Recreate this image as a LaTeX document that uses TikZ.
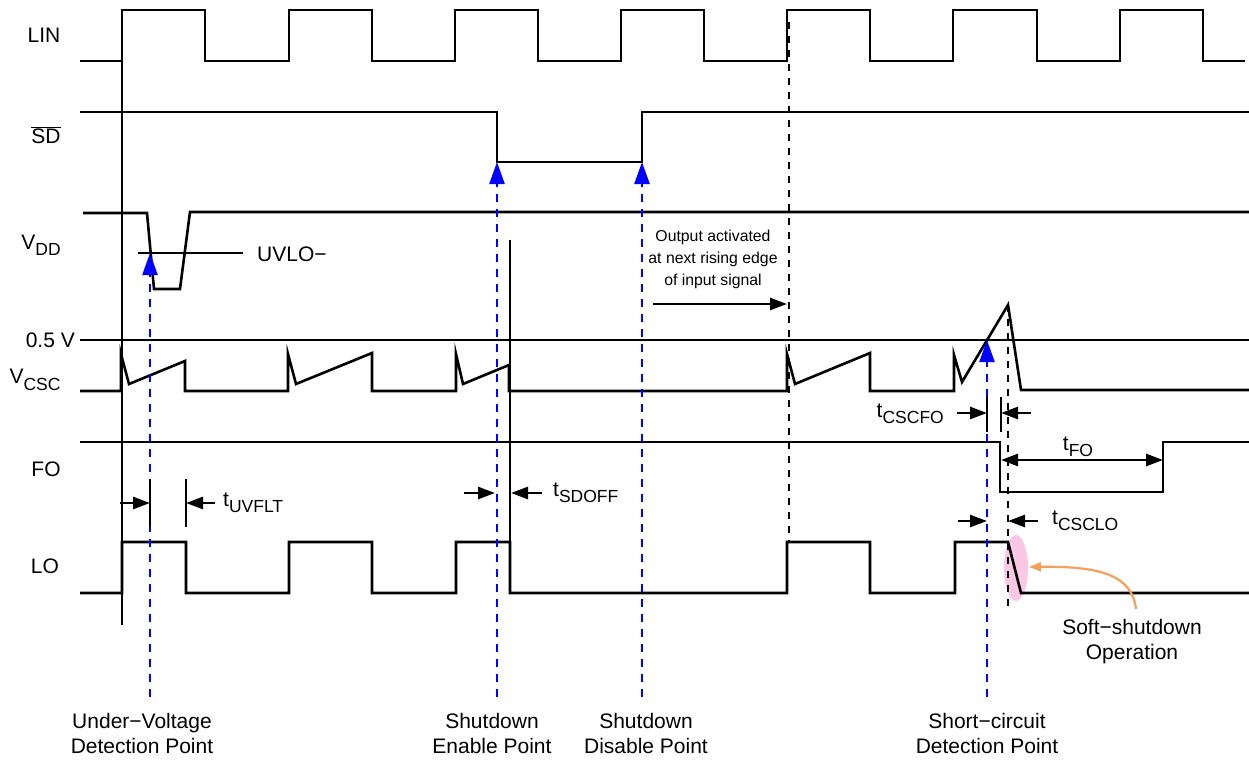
\documentclass[tikz,border=0pt]{standalone}
\usepackage{fontspec}
\setmainfont{Liberation Sans}
\usetikzlibrary{arrows.meta}
\definecolor{pinkfill}{RGB}{250,200,228}
\definecolor{orangearr}{RGB}{242,160,90}
\newcommand{\sbs}[1]{\raisebox{-0.3em}{\fontsize{17.5}{19}\selectfont #1}}
\begin{document}
\begin{tikzpicture}[x=1pt,y=-1pt,font=\fontsize{21}{25}\selectfont,
  sig/.style={line width=2.6pt},
  bluearrow/.style={blue,line width=2.4pt,dash pattern=on 8pt off 7pt,-{Triangle[length=22pt,width=15pt]}},
  blkarrow/.style={line width=2.6pt,-{Triangle[length=17pt,width=12pt]}},
  dblarrow/.style={line width=2.6pt,{Triangle[length=17pt,width=12pt]}-{Triangle[length=17pt,width=12pt]}},
  blkdash/.style={line width=2.6pt,dash pattern=on 7pt off 7pt},
  tick/.style={line width=2.6pt},
  lbl/.style={inner sep=0pt},
  bottomlbl/.style={inner sep=0pt,align=center,anchor=north}]
\useasboundingbox (0,0) rectangle (1249,768);

% signal labels
\node[lbl] (lLIN) at (44,35) {LIN};
\node[lbl] (lSD) at (46,135) {$\overline{\mbox{SD}}$};
\node[lbl] (lVDD) at (41,245) {V\sbs{DD}};
\node[lbl,anchor=east] (l05) at (75,340) {0.5 V};
\node[lbl] (lVCSC) at (35,380) {V\sbs{CSC}};
\node[lbl] (lFO) at (46,469) {FO};
\node[lbl] (lLO) at (45,566) {LO};

% pink ellipse (behind LO)
\fill[pinkfill] (1016,568) ellipse [x radius=12, y radius=33];

% LIN
\draw[sig] (80,61) -- (122,61) -- (122,10) -- (205,10) -- (205,61) -- (289,61) -- (289,10) -- (372,10) -- (372,61)
  -- (455,61) -- (455,10) -- (538,10) -- (538,61) -- (621,61) -- (621,10) -- (704,10) -- (704,61)
  -- (787,61) -- (787,10) -- (870,10) -- (870,61) -- (953,61) -- (953,10) -- (1037,10) -- (1037,61)
  -- (1120,61) -- (1120,10) -- (1203,10) -- (1203,61) -- (1245,61);
% SD
\draw[sig] (80,112) -- (497,112) -- (497,162) -- (642,162) -- (642,112) -- (1249,112);
% VDD
\draw[sig] (83,213) -- (147,213) -- (154,289) -- (180,289) -- (190,212) -- (1249,212);
\draw[sig] (138,253) -- (243,253);
\node[lbl,anchor=west] (luvlo) at (257,254) {UVLO−};
% 0.5 V
\draw[sig] (80,340) -- (1249,340);
% VCSC
\draw[sig] (80,391) -- (121,391) -- (121,354) -- (129,384) -- (185,361) -- (185,391) -- (288,391) -- (288,354) -- (296,384)
  -- (372,353) -- (372,391) -- (456,391) -- (456,354) -- (463,384) -- (509,365) -- (509,391) -- (787,391)
  -- (787,354) -- (795,384) -- (870,353) -- (870,391) -- (954,391) -- (954,355) -- (962,382) -- (1008,305)
  -- (1021,390) -- (1249,390);
% FO
\draw[sig] (80,442) -- (1000,442) -- (1000,492) -- (1163,492) -- (1163,442) -- (1249,442);
% LO
\draw[sig] (80,593) -- (122,593) -- (122,542) -- (186,542) -- (186,593) -- (289,593) -- (289,542) -- (372,542) -- (372,593)
  -- (456,593) -- (456,542) -- (510,542) -- (510,593) -- (787,593) -- (787,542) -- (870,542) -- (870,593)
  -- (955,593) -- (955,542) -- (1008,542) -- (1021,593) -- (1249,593);

% long verticals
\draw[sig] (122,10) -- (122,625);
\draw[sig] (510,240) -- (510,593);

% black dashed
\draw[blkdash] (789,22) -- (789,542);
\draw[blkdash] (1008,305) -- (1008,607);

% detection point coordinates
\coordinate (uvpt) at (150,253);
\coordinate (sept) at (497,162);
\coordinate (sdpt) at (642,162);
\coordinate (scpt) at (987,340);

% bottom labels
\node[bottomlbl] (luv) at (142,713) {Under−Voltage\\Detection Point};
\node[bottomlbl] (lse) at (492,713) {Shutdown\\Enable Point};
\node[bottomlbl] (lsd) at (646,713) {Shutdown\\Disable Point};
\node[bottomlbl] (lsc) at (987,713) {Short−circuit\\Detection Point};

% blue arrows
\draw[bluearrow] (150,697) -- (uvpt);
\draw[bluearrow] (497,697) -- (sept);
\draw[bluearrow] (642,697) -- (sdpt);
\draw[bluearrow] (987,697) -- (scpt);

% tUVFLT
\draw[tick] (150,479) -- (150,527);
\draw[tick] (186,479) -- (186,527);
\coordinate (uva) at (120,503);
\coordinate (uvb) at (150,503);
\coordinate (uvc) at (215,503);
\coordinate (uvd) at (186,503);
\draw[blkarrow] (uva) -- (uvb);
\draw[blkarrow] (uvc) -- (uvd);
\node[lbl,anchor=west] (ltuv) at (223,503) {t\sbs{UVFLT}};

% tSDOFF
\coordinate (sda) at (464,493);
\coordinate (sdb) at (495,493);
\coordinate (sdc) at (542,493);
\coordinate (sdd) at (511,493);
\draw[blkarrow] (sda) -- (sdb);
\draw[blkarrow] (sdc) -- (sdd);
\node[lbl,anchor=west] (ltsd) at (553,493) {t\sbs{SDOFF}};

% tCSCFO
\draw[tick] (987,397) -- (987,432);
\draw[tick] (1001,397) -- (1001,432);
\coordinate (cfa) at (957,413);
\coordinate (cfb) at (987,413);
\coordinate (cfc) at (1031,413);
\coordinate (cfd) at (1001,413);
\draw[blkarrow] (cfa) -- (cfb);
\draw[blkarrow] (cfc) -- (cfd);
\node[lbl,anchor=east] (ltcf) at (944,414) {t\sbs{CSCFO}};

% tFO
\coordinate (foa) at (1001,460);
\coordinate (fob) at (1163,460);
\draw[dblarrow] (foa) -- (fob);
\node[lbl] (ltfo) at (1078,447) {t\sbs{FO}};

% tCSCLO
\coordinate (cla) at (958,521);
\coordinate (clb) at (987,521);
\coordinate (clc) at (1038,521);
\coordinate (cld) at (1008,521);
\draw[blkarrow] (cla) -- (clb);
\draw[blkarrow] (clc) -- (cld);
\node[lbl,anchor=west] (ltcl) at (1052,521) {t\sbs{CSCLO}};

% output activated
\node[lbl,align=center,font=\fontsize{15.8}{22}\selectfont] (lout) at (713,259) {Output activated\\at next rising edge\\of input signal};
\coordinate (oa) at (653,304);
\coordinate (ob) at (787,304);
\draw[blkarrow] (oa) -- (ob);

% soft shutdown
\node[lbl,align=center] (lsoft) at (1132,642) {Soft−shutdown\\Operation};
\coordinate (ssa) at (1136,609);
\coordinate (ssb) at (1029,567);
\draw[orangearr,line width=2.2pt,-{Triangle[length=12pt,width=9pt]}] (ssa) .. controls (1132,575) and (1100,566) .. (ssb);
\end{tikzpicture}
\end{document}
